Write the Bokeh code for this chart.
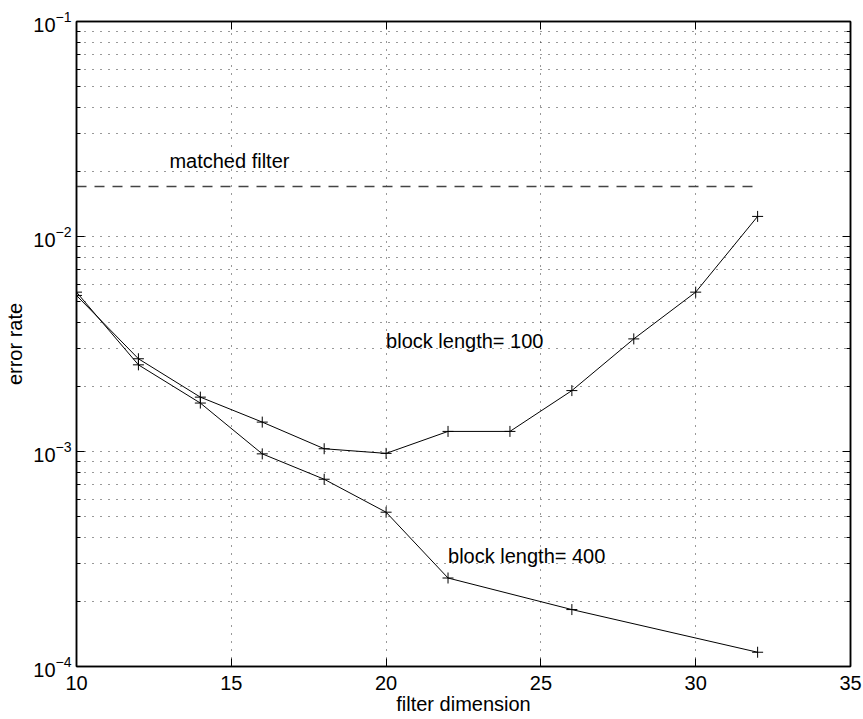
from bokeh.plotting import figure
from bokeh.models import (Range1d, FixedTicker, LinearAxis, LogAxis,
                          CustomJSTickFormatter)
from bokeh.core.properties import value
from bokeh.embed import file_html
from bokeh.resources import INLINE

# ---- data ----
x_block100 = [10, 12, 14, 16, 18, 20, 22, 24, 26, 28, 30, 32]
y_block100 = [5.32e-3, 2.70e-3, 1.79e-3, 1.37e-3, 1.03e-3, 9.8e-4,
              1.24e-3, 1.24e-3, 1.92e-3, 3.34e-3, 5.51e-3, 1.24e-2]
x_block400 = [10, 12, 14, 16, 18, 20, 22, 26, 32]
y_block400 = [5.51e-3, 2.53e-3, 1.68e-3, 9.75e-4, 7.43e-4, 5.22e-4,
              2.58e-4, 1.84e-4, 1.165e-4]
x_matched = [10, 32]
y_matched = [0.0171, 0.0171]

label_texts = ["matched filter", "block length= 100", "block length= 400"]
label_x = [13, 20, 22]
label_y = [0.0225, 3.28e-3, 3.25e-4]

x_ticks = [10, 15, 20, 25, 30, 35]
x_grid = [15, 20, 25, 30]
y_ticks = [1e-4, 1e-3, 1e-2, 1e-1]
y_minor = [m * 10.0 ** e for e in (-4, -3, -2) for m in range(2, 10)]

FONT = "Liberation Sans"

p = figure(width=863, height=719, y_axis_type="log",
           x_range=Range1d(10, 35), y_range=Range1d(1e-4, 1e-1),
           output_backend="svg", toolbar_location=None,
           min_border_left=76, min_border_right=13,
           min_border_top=21, min_border_bottom=53)
p.background_fill_color = "white"
p.border_fill_color = "white"
p.outline_line_color = "black"
p.outline_line_width = 1.5

# ---- axes ----
def style_axis(ax):
    ax.axis_line_color = "black"
    ax.axis_line_width = 1.5
    ax.major_tick_in = 8
    ax.major_tick_out = 0
    ax.minor_tick_in = 4
    ax.minor_tick_out = 0
    ax.major_tick_line_color = "black"
    ax.minor_tick_line_color = "black"
    ax.major_label_text_font = FONT
    ax.major_label_text_font_size = "20px"
    ax.major_label_text_color = "black"
    ax.axis_label_text_font = FONT
    ax.axis_label_text_font_size = "20px"
    ax.axis_label_text_font_style = "normal"
    ax.axis_label_text_color = "black"

xa = p.xaxis[0]
style_axis(xa)
xa.ticker = FixedTicker(ticks=x_ticks)
xa.minor_tick_line_color = None
xa.axis_label = "filter dimension"
xa.major_label_standoff = 9
xa.axis_label_standoff = 0

ya = p.yaxis[0]
style_axis(ya)
ya.ticker = FixedTicker(ticks=y_ticks, minor_ticks=y_minor)
ya.axis_label = "error rate"
ya.major_label_standoff = 5
ya.axis_label_standoff = 4

empty = CustomJSTickFormatter(code="return ''")
top = LinearAxis(ticker=FixedTicker(ticks=x_ticks), formatter=empty)
style_axis(top)
top.minor_tick_line_color = None
top.major_label_standoff = 0
p.add_layout(top, "above")

right = LogAxis(ticker=FixedTicker(ticks=y_ticks, minor_ticks=y_minor),
                formatter=empty)
style_axis(right)
right.major_label_standoff = 0
p.add_layout(right, "right")

# ---- grid ----
p.xgrid.ticker = FixedTicker(ticks=x_grid)
p.xgrid.grid_line_color = "#333333"
p.xgrid.grid_line_dash = "1 7"
p.xgrid.grid_line_width = 1
p.ygrid.grid_line_color = "#333333"
p.ygrid.grid_line_dash = "1 7"
p.ygrid.grid_line_width = 1
p.ygrid.minor_grid_line_color = "#333333"
p.ygrid.minor_grid_line_dash = "1 7"
p.ygrid.minor_grid_line_width = 1

# ---- data marks ----
p.line(x_matched, y_matched, line_color="#444444", line_width=1.5,
       line_dash="10 8")
p.line(x_block100, y_block100, line_color="black", line_width=1)
p.scatter(x_block100, y_block100, marker="cross", size=11,
          line_color="black", line_width=1)
p.line(x_block400, y_block400, line_color="black", line_width=1)
p.scatter(x_block400, y_block400, marker="cross", size=11,
          line_color="black", line_width=1)

p.text(x=label_x, y=label_y, text=label_texts, text_font=value(FONT),
       text_font_size="20px", text_color="black",
       text_align="left", text_baseline="middle")

open("out.html", "w").write(file_html(p, INLINE))
